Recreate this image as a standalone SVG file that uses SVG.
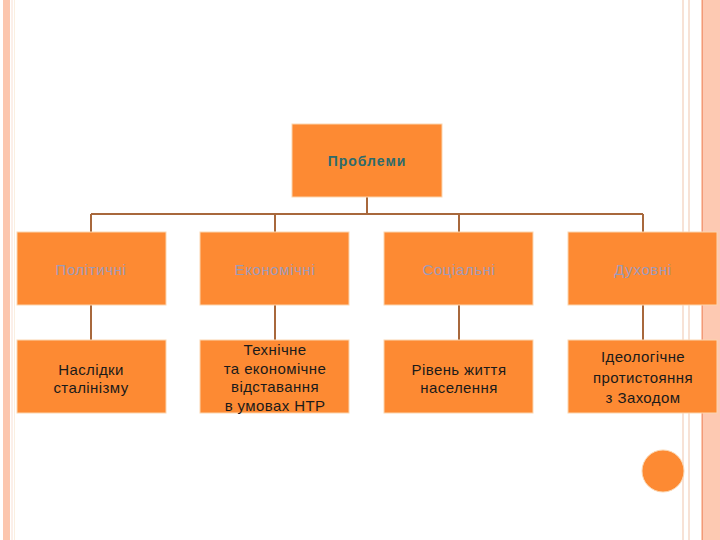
<svg xmlns="http://www.w3.org/2000/svg" width="720" height="540" viewBox="0 0 720 540">
<style>
.box{fill:#fd8a33;stroke:#fbd6b0;stroke-width:1}
.t{font-family:"Liberation Sans",Arial,sans-serif;font-size:15px;letter-spacing:0.4px;fill:#1a1a1a;text-anchor:middle}
.f{font-family:"Liberation Sans",Arial,sans-serif;font-size:15px;letter-spacing:0.6px;fill:#9d9ab8;text-anchor:middle}
.h{font-family:"Liberation Sans",Arial,sans-serif;font-size:14px;letter-spacing:1px;font-weight:bold;fill:#2e6b6b;text-anchor:middle}
.c{stroke:#a8683c;stroke-width:2;fill:none}
</style>
<rect width="720" height="540" fill="#ffffff"/>
<g id="border">
<rect x="3" y="0" width="7" height="540" fill="#fcc6ae"/>
<line x1="12" y1="0" x2="12" y2="540" stroke="#f8e0d4" stroke-width="1"/>
<line x1="14.5" y1="0" x2="14.5" y2="540" stroke="#fbefe0" stroke-width="1"/>
<line x1="683" y1="0" x2="683" y2="540" stroke="#f4d8c8" stroke-width="1.5"/>
<line x1="689" y1="0" x2="689" y2="540" stroke="#f4d8c8" stroke-width="1.5"/>
<rect x="701" y="0" width="19" height="540" fill="#fdc9b2"/>
<line x1="702.5" y1="0" x2="702.5" y2="540" stroke="#f29a78" stroke-width="1"/>
</g>
<g id="connectors">
<line class="c" x1="367" y1="197" x2="367" y2="214"/>
<line class="c" x1="91" y1="214" x2="643" y2="214"/>
<line class="c" x1="91" y1="214" x2="91" y2="232"/>
<line class="c" x1="275" y1="214" x2="275" y2="232"/>
<line class="c" x1="459" y1="214" x2="459" y2="232"/>
<line class="c" x1="643" y1="214" x2="643" y2="232"/>
<line class="c" x1="91" y1="305" x2="91" y2="340"/>
<line class="c" x1="275" y1="305" x2="275" y2="340"/>
<line class="c" x1="459" y1="305" x2="459" y2="340"/>
<line class="c" x1="643" y1="305" x2="643" y2="340"/>
</g>
<g id="root"><rect class="box" x="292" y="124" width="150" height="73"/><text class="h" x="367" y="166">Проблеми</text></g>
<g id="n-pol"><rect class="box" x="17" y="232" width="149" height="73"/><text class="f" x="91" y="275">Політичні</text></g>
<g id="n-eco"><rect class="box" x="200" y="232" width="149" height="73"/><text class="f" x="275" y="275">Економічні</text></g>
<g id="n-soc"><rect class="box" x="384" y="232" width="149" height="73"/><text class="f" x="459" y="275">Соціальні</text></g>
<g id="n-duh"><rect class="box" x="568" y="232" width="149" height="73"/><text class="f" x="643" y="275">Духовні</text></g>
<g id="d-pol"><rect class="box" x="17" y="340" width="149" height="73"/><text class="t" x="91" y="375">Наслідки</text><text class="t" x="91" y="393">сталінізму</text></g>
<g id="d-eco"><rect class="box" x="200" y="340" width="149" height="73"/><text class="t" x="275" y="355">Технічне</text><text class="t" x="275" y="374">та економічне</text><text class="t" x="275" y="392">відставання</text><text class="t" x="275" y="411">в умовах НТР</text></g>
<g id="d-soc"><rect class="box" x="384" y="340" width="149" height="73"/><text class="t" x="459" y="375">Рівень життя</text><text class="t" x="459" y="393">населення</text></g>
<g id="d-duh"><rect class="box" x="568" y="340" width="149" height="73"/><text class="t" x="643" y="362">Ідеологічне</text><text class="t" x="643" y="383">протистояння</text><text class="t" x="643" y="403">з Заходом</text></g>
<circle cx="663" cy="471" r="21" fill="#fd8a33" stroke="#fbd6b0" stroke-width="1"/>
</svg>
